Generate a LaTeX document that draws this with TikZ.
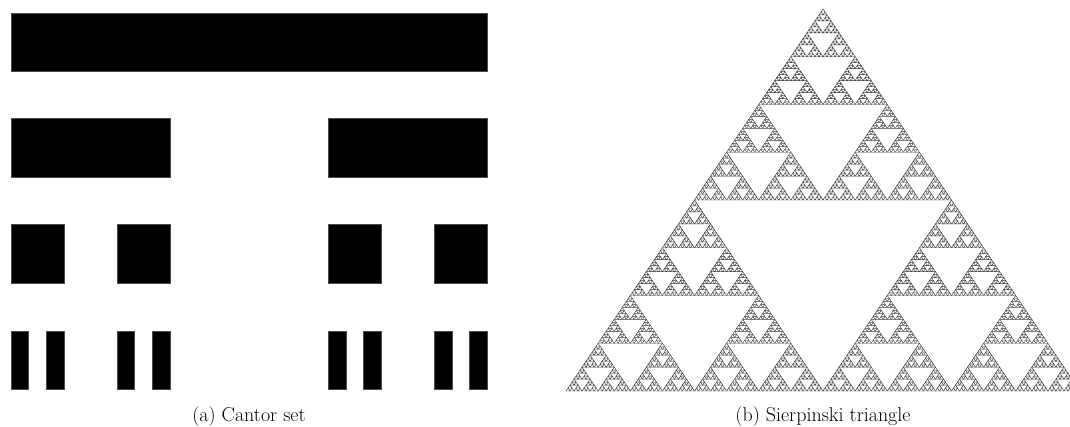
\documentclass[tikz,border=0pt]{standalone}
\usepackage{fontspec}
\begin{document}
\begin{tikzpicture}[x=1pt,y=-1pt,
  bar/.style={fill=black,draw=black!70,line width=0.3pt},
  tri/.style={draw=black!75,line width=0.45pt}]
\useasboundingbox (0,0) rectangle (1070,427);
\clip (0,0) rectangle (1070,427);
% Cantor set
\def\cantor#1#2#3#4#5{%
  \ifnum#1=0
    \path[bar] (#2,#4) rectangle ++(#3,#5);
  \else
    \begingroup
    \pgfmathsetmacro\cw{#3/3}%
    \pgfmathsetmacro\cx{#2+2*#3/3}%
    \pgfmathtruncatemacro\cl{#1-1}%
    \edef\cnext{\noexpand\cantor{\cl}{#2}{\cw}{#4}{#5}\noexpand\cantor{\cl}{\cx}{\cw}{#4}{#5}}%
    \expandafter\endgroup\cnext
  \fi}
\cantor{0}{11}{476}{13}{58}
\cantor{1}{11}{476}{118.5}{58.5}
\cantor{2}{11}{476}{224.5}{58.5}
\cantor{3}{11}{476}{331}{58}
% Sierpinski triangle
\def\sierp#1#2#3#4#5{%
  \ifnum#1=0
    \path[tri] (#2,#3) -- ++(-#4/2,#5) -- ++(#4,0) -- cycle;
  \else
    \begingroup
    \pgfmathsetmacro\nw{#4/2}%
    \pgfmathsetmacro\nh{#5/2}%
    \pgfmathsetmacro\xl{#2-#4/4}%
    \pgfmathsetmacro\xr{#2+#4/4}%
    \pgfmathsetmacro\yb{#3+#5/2}%
    \pgfmathtruncatemacro\nl{#1-1}%
    \edef\snext{\noexpand\sierp{\nl}{#2}{#3}{\nw}{\nh}\noexpand\sierp{\nl}{\xl}{\yb}{\nw}{\nh}\noexpand\sierp{\nl}{\xr}{\yb}{\nw}{\nh}}%
    \expandafter\endgroup\snext
  \fi}
\sierp{7}{823}{9}{514}{382}
% captions
\tikzset{captext/.style={anchor=base,inner sep=0pt}}
\node[captext] (capa) at (249,421) {\fontsize{20}{24}\selectfont (a) Cantor set};
\node[captext] (capb) at (823,421) {\fontsize{20}{24}\selectfont (b) Sierpinski triangle};
\end{tikzpicture}
\end{document}
